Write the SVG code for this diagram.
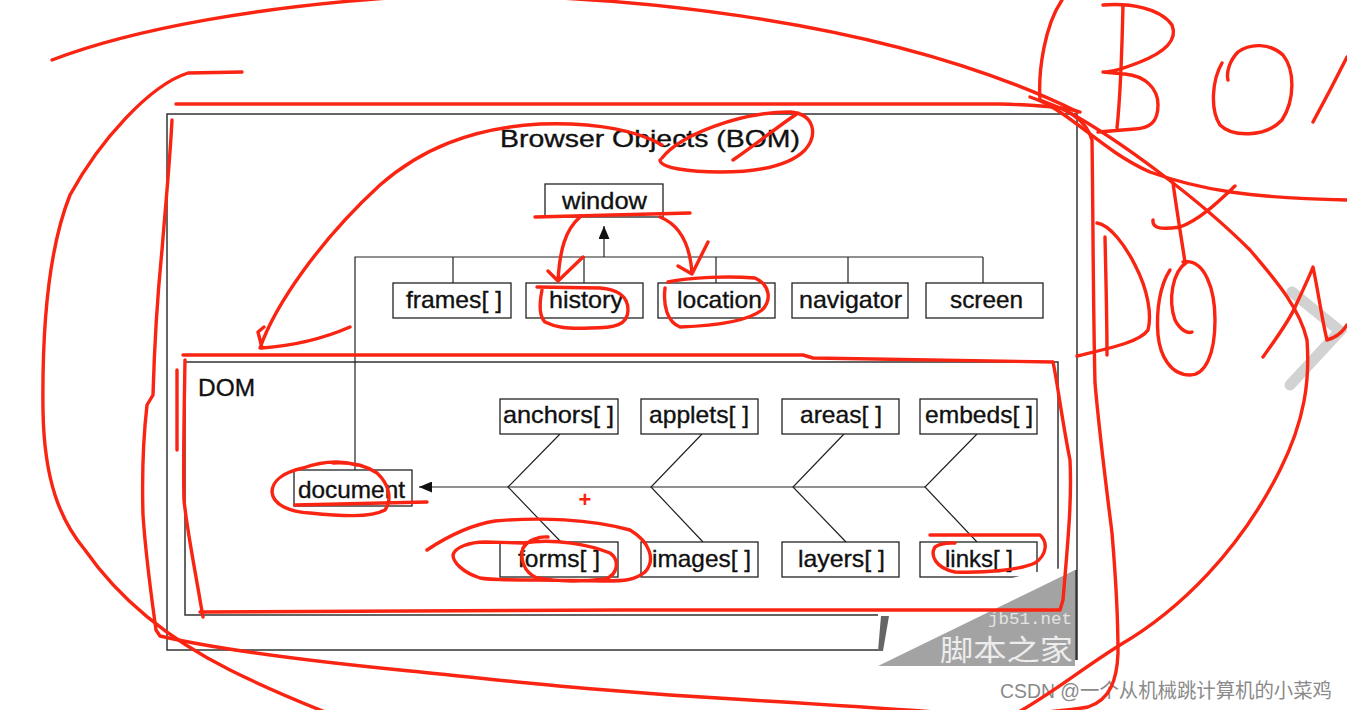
<svg xmlns="http://www.w3.org/2000/svg" width="1347" height="710" viewBox="0 0 1347 710">
<style>
.frame{fill:none;stroke:#333;stroke-width:1.5}
.box{fill:#fff;stroke:#222;stroke-width:1.3}
.lbl{font-family:"Liberation Sans",Arial,sans-serif;font-size:24px;fill:#111;stroke:#111;stroke-width:0.35}
.con{fill:none;stroke:#222;stroke-width:1.2}
.ink{fill:none;stroke:#fa2412;stroke-width:3.4;stroke-linecap:round;stroke-linejoin:round}
</style>
<defs>
<marker id="arr" viewBox="0 0 13 11" refX="13" refY="5.5" markerWidth="13" markerHeight="11" markerUnits="userSpaceOnUse" orient="auto">
<path d="M0,0 L13,5.5 L0,11 z" fill="#111"/>
</marker>
</defs>
<rect x="0" y="0" width="1347" height="710" fill="#fff"/>

<g id="frames">
<path class="frame" d="M880,650 L167,650 L167,114 L1077,114 L1077,660"/>
<path class="frame" d="M882,615 L185,615 L185,362 L1058,362 L1058,570"/>
<text class="lbl" x="500" y="147" textLength="300" lengthAdjust="spacingAndGlyphs">Browser Objects (BOM)</text>
<text class="lbl" x="198" y="396" textLength="57" lengthAdjust="spacingAndGlyphs">DOM</text>
</g>

<g id="connectors">
<path class="con" d="M355,470 L355,257 L983,257"/>
<path class="con" d="M453,257 V283 M584,257 V283 M716,257 V283 M848,257 V283 M983,257 V283"/>
<path class="con" d="M604,257 V226" marker-end="url(#arr)"/>
<path class="con" d="M925,487 H419" marker-end="url(#arr)"/>
<path class="con" d="M560,434 L508,487 L561,542 M702,434 L651,487 L703,542 M844,434 L793,487 L846,542 M977,434 L925,487 L977,542"/>
</g>

<g id="window"><rect class="box" x="545" y="184" width="118" height="33"/><text class="lbl" x="562" y="209" textLength="85" lengthAdjust="spacingAndGlyphs">window</text></g>
<g id="frames-arr"><rect class="box" x="393" y="283" width="118" height="35"/><text class="lbl" x="406" y="308" textLength="96" lengthAdjust="spacingAndGlyphs">frames[ ]</text></g>
<g id="history"><rect class="box" x="526" y="283" width="117" height="35"/><text class="lbl" x="549" y="308" textLength="74" lengthAdjust="spacingAndGlyphs">history</text></g>
<g id="location"><rect class="box" x="658" y="283" width="117" height="35"/><text class="lbl" x="677" y="308" textLength="85" lengthAdjust="spacingAndGlyphs">location</text></g>
<g id="navigator"><rect class="box" x="792" y="283" width="116" height="35"/><text class="lbl" x="799" y="308" textLength="103" lengthAdjust="spacingAndGlyphs">navigator</text></g>
<g id="screen"><rect class="box" x="926" y="283" width="117" height="35"/><text class="lbl" x="950" y="308" textLength="73" lengthAdjust="spacingAndGlyphs">screen</text></g>

<g id="document"><rect class="box" x="294" y="470" width="118" height="36"/><text class="lbl" x="298" y="498" textLength="107" lengthAdjust="spacingAndGlyphs">document</text></g>
<g id="anchors"><rect class="box" x="500" y="399" width="118" height="35"/><text class="lbl" x="503" y="423" textLength="111" lengthAdjust="spacingAndGlyphs">anchors[ ]</text></g>
<g id="applets"><rect class="box" x="641" y="399" width="117" height="35"/><text class="lbl" x="649" y="423" textLength="100" lengthAdjust="spacingAndGlyphs">applets[ ]</text></g>
<g id="areas"><rect class="box" x="782" y="399" width="117" height="35"/><text class="lbl" x="800" y="423" textLength="82" lengthAdjust="spacingAndGlyphs">areas[ ]</text></g>
<g id="embeds"><rect class="box" x="920" y="399" width="117" height="35"/><text class="lbl" x="925" y="423" textLength="108" lengthAdjust="spacingAndGlyphs">embeds[ ]</text></g>
<g id="forms"><rect class="box" x="500" y="542" width="118" height="35"/><text class="lbl" x="518" y="567" textLength="82" lengthAdjust="spacingAndGlyphs">forms[ ]</text></g>
<g id="images"><rect class="box" x="641" y="542" width="117" height="35"/><text class="lbl" x="652" y="567" textLength="99" lengthAdjust="spacingAndGlyphs">images[ ]</text></g>
<g id="layers"><rect class="box" x="782" y="542" width="117" height="35"/><text class="lbl" x="798" y="567" textLength="87" lengthAdjust="spacingAndGlyphs">layers[ ]</text></g>
<g id="links"><rect class="box" x="920" y="542" width="117" height="35"/><text class="lbl" x="945" y="567" textLength="68" lengthAdjust="spacingAndGlyphs">links[ ]</text></g>

<g id="watermark">
<polygon points="881,612 1031,573 1075,566 1075,570 878,666 878,612" fill="#fff"/>
<polygon points="878,666 1075,570 1075,666" fill="#a3a3a3"/>
<polygon points="881,616 889,616 883,651 878,651" fill="#666"/>
<line x1="1076" y1="570" x2="1076" y2="660" stroke="#222" stroke-width="1.5"/>
<text x="988" y="624" font-family="'Liberation Mono',monospace" font-size="16" fill="#e4e4e4" textLength="84" lengthAdjust="spacingAndGlyphs">jb51.net</text>
<text x="940" y="661" font-family="'Noto Sans CJK SC',sans-serif" font-size="29" fill="#ececec" textLength="133" lengthAdjust="spacingAndGlyphs">脚本之家</text>
<polyline points="1292,292 1340,331 1290,385" fill="none" stroke="#d2d2d2" stroke-width="11" stroke-linecap="round"/>
<text x="1000" y="698" font-family="'Liberation Sans','Noto Sans CJK SC',sans-serif" font-size="20" fill="#8a8a8a" textLength="332" lengthAdjust="spacingAndGlyphs">CSDN @一个从机械跳计算机的小菜鸡</text>
</g>

<g id="annotations">
<path class="ink" d="M52,60 C130,30 260,5 420,-4 C600,-8 880,15 1078,112"/>
<path class="ink" d="M176,104 L1000,104 C1040,105 1065,107 1080,112"/>
<path class="ink" d="M242,72 L188,73 C150,85 100,140 70,195 C48,250 42,330 43,410 C44,480 60,520 85,550 C120,600 170,640 230,670 C270,690 300,702 330,714"/>
<path class="ink" d="M172,120 C170,160 166,200 162,250 C156,310 154,360 153,395 L147,405 C143,440 142,480 143,515 C146,560 152,600 156,630 L160,636 C220,650 300,660 400,670 C500,680 600,692 750,700 C850,706 900,709 960,714"/>
<path class="ink" d="M1030,97 C1070,110 1100,150 1150,172 C1200,190 1250,198 1347,200"/>
<path class="ink" d="M1065,110 C1120,140 1200,200 1250,250 C1280,285 1300,310 1307,340 C1310,380 1305,420 1280,470 C1240,550 1180,610 1120,645 C1080,670 1050,695 1015,714"/>
<path class="ink" d="M1062,0 C1045,25 1038,70 1040,100 C1060,108 1085,115 1092,140 C1093,200 1093,300 1095,383 C1100,440 1108,500 1112,533 C1116,580 1118,620 1118,653 C1117,680 1110,700 1088,707 C1060,712 1040,712 1000,716"/>
<path class="ink" d="M1123,5 C1122,50 1120,100 1117,128 M1103,5 C1130,3 1160,8 1172,25 C1178,40 1165,52 1140,62 C1125,68 1110,72 1103,72 L1125,74 C1145,76 1158,88 1158,105 C1158,122 1150,128 1135,129 L1098,132"/>
<path class="ink" d="M1222,63 C1212,80 1210,110 1220,125 C1232,137 1265,138 1282,120 C1295,100 1295,70 1283,55 C1270,43 1250,43 1238,52 C1230,60 1226,72 1228,80"/>
<path class="ink" d="M1313,122 C1325,100 1338,75 1347,57"/>
<path class="ink" d="M1173,183 C1176,205 1180,230 1185,262 M1153,220 C1152,228 1160,230 1180,227 C1200,220 1220,200 1235,186"/>
<path class="ink" d="M1105,237 C1106,280 1107,320 1107,355 M1097,223 C1110,225 1125,245 1135,265 C1148,290 1152,315 1148,330 C1140,342 1110,348 1077,356"/>
<path class="ink" d="M1187,262 C1172,272 1168,300 1175,320 C1180,330 1188,334 1192,332 M1183,262 C1205,258 1215,290 1215,320 C1215,355 1205,375 1190,375 C1170,375 1160,355 1158,335 C1156,310 1160,285 1170,270"/>
<path class="ink" d="M1263,357 C1275,340 1290,320 1296,305 C1303,290 1310,275 1313,267 C1318,290 1322,320 1327,340 C1335,338 1342,333 1347,325"/>
<path class="ink" d="M260,348 C275,305 320,240 380,185 C420,150 470,128 540,124 C600,122 640,132 662,145 M262,348 L258,332 L264,327 M350,327 C320,340 290,346 262,348"/>
<path class="ink" d="M662,158 C680,135 740,112 790,112 C815,114 818,135 805,150 C790,165 760,172 720,172 C690,172 660,168 660,160 M733,160 C755,145 780,125 798,113"/>
<path class="ink" d="M535,217 L690,213"/>
<path class="ink" d="M580,217 C565,230 560,250 558,280 M548,271 L558,281 L583,257"/>
<path class="ink" d="M660,217 C680,225 690,245 692,273 M678,266 L692,274 L708,242"/>
<path class="ink" d="M537,287 L600,288 C615,289 628,295 628,310 C628,325 615,328 590,328 C565,329 555,327 545,322 C538,315 540,300 542,290"/>
<path class="ink" d="M668,282 C690,277 730,276 755,278 C770,285 772,300 762,310 C745,323 710,326 680,327 C667,322 663,305 665,288"/>
<path class="ink" d="M357,465 C340,460 320,462 303,468 C285,472 272,480 272,492 C273,505 290,512 310,513 C340,516 370,518 385,510 C392,500 390,485 377,473 C365,465 350,462 333,463"/>
<path class="ink" d="M295,505 L427,502"/>
<path class="ink" d="M427,550 C445,538 470,525 495,521 C540,517 590,519 630,530 C650,542 656,560 645,572 C635,580 625,581 605,581 L537,580 C510,580 490,580 480,578 C462,572 453,562 453,555 C455,547 470,542 485,542 L523,543 C555,538 590,545 610,553 C620,560 618,575 605,579 C580,582 560,582 537,578 C523,572 520,558 523,548 C528,540 540,536 548,537"/>
<path class="ink" d="M930,535 L1040,535 C1048,542 1047,555 1035,563 C1020,570 985,573 955,572 C935,568 930,555 935,547 C942,542 950,543 955,543"/>
<path class="ink" d="M183,355 L630,355 L803,355 L813,358 L1053,362 C1057,380 1062,420 1070,460 C1072,500 1068,540 1063,600 L1060,610 L620,610 L200,612 M185,360 C184,420 183,470 184,500 C187,530 195,570 200,600 L203,617 M177,370 L177,450"/>
<text x="585" y="507" text-anchor="middle" font-family="'Liberation Sans',sans-serif" font-size="22" font-weight="bold" fill="#fa2412">+</text>
</g>
</svg>
